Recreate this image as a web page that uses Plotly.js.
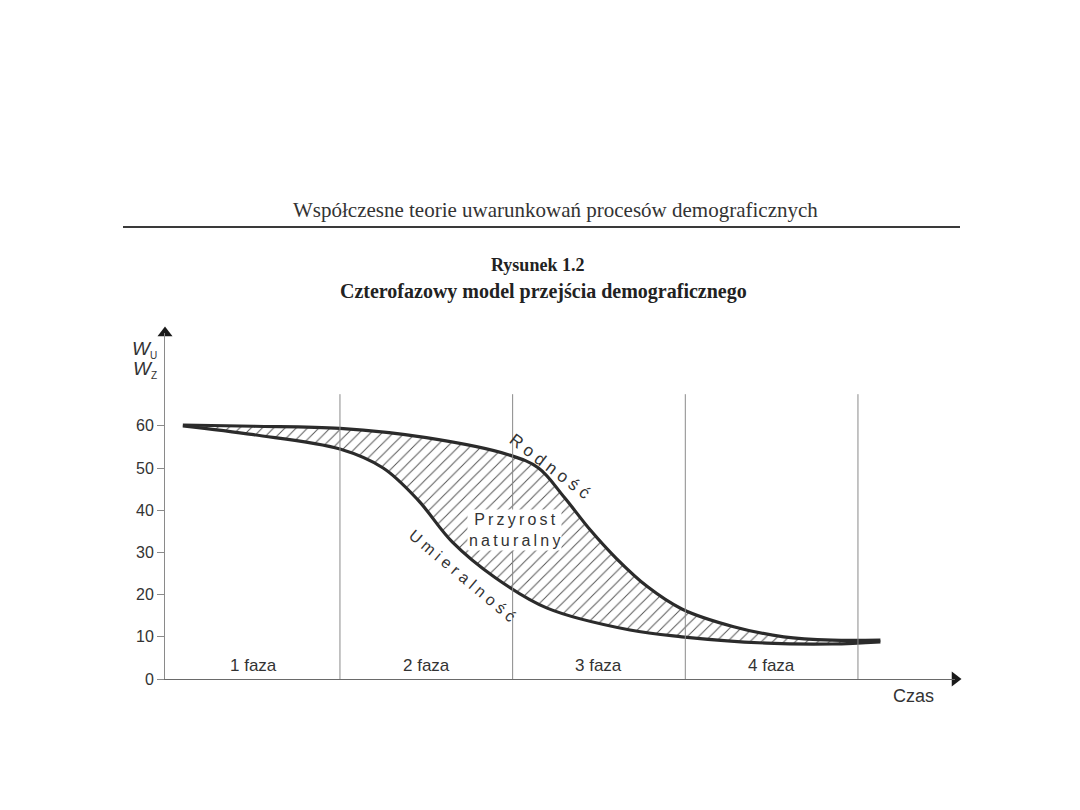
<!DOCTYPE html>
<html>
<head>
<meta charset="utf-8">
<script src="https://cdn.plot.ly/plotly-3.0.1.min.js"></script>
<style>html,body{margin:0;padding:0;background:#fff;}#chart{width:1080px;height:810px;}</style>
</head>
<body>
<div id="chart"></div>
<script>
// ---- data ----
const phaseLabels = ['1 faza', '2 faza', '3 faza', '4 faza'];
const phaseCenters = [0.5, 1.5, 2.5, 3.5];
const phaseBounds = [1, 2, 3, 4];
const phaseTop = 67.5;

// Rodność (birth rate), upper curve
const birthX = [0.09, 0.50, 1.00, 1.50, 1.98, 2.15, 2.30, 2.45, 2.60, 2.78, 2.98, 3.28, 3.57, 3.85, 4.13];
const birthY = [60.2, 59.9, 59.4, 57.2, 53.1, 50.0, 43.0, 35.3, 28.6, 21.9, 16.6, 12.4, 10.0, 9.2, 9.2];

// Umieralność (death rate), lower curve
const deathX = [0.09, 0.50, 1.00, 1.25, 1.45, 1.65, 1.90, 2.20, 2.68, 2.98, 3.47, 3.85, 4.13];
const deathY = [60.0, 57.9, 54.5, 50.0, 42.5, 32.5, 24.0, 16.8, 11.6, 10.0, 8.5, 8.3, 8.8];

const yTicks = [0, 10, 20, 30, 40, 50, 60];

const headerText = 'Współczesne teorie uwarunkowań procesów demograficznych';
const titleLine1 = 'Rysunek 1.2';
const titleLine2 = 'Czterofazowy model przejścia demograficznego';
const xAxisLabel = 'Czas';
const birthLabel = 'R o d n o ś ć';
const deathLabel = 'U m i e r a l n o ś ć';
const thin = '\u2009';
const areaLabel = 'Przyrost'.split('').join(thin) + '<br>' + 'naturalny'.split('').join(thin);

// ---- layout constants ----
const X_MIN = -0.0133, X_MAX = 4.562, Y_MAX = 82;
const sans = 'Liberation Sans, Arial, sans-serif';
const serif = 'Liberation Serif, Times New Roman, serif';
const ink = '#2b2b2b';
const px2paperX = px => (px - 165) / 790;
const px2paperY = py => (679 - py) / 346;

const traces = [
  {
    x: deathX, y: deathY, type: 'scatter', mode: 'lines', name: 'Umieralność',
    line: {color: ink, width: 3.2, shape: 'spline', smoothing: 1},
    hoverinfo: 'skip'
  },
  {
    x: birthX, y: birthY, type: 'scatter', mode: 'lines', name: 'Rodność',
    line: {color: ink, width: 3.2, shape: 'spline', smoothing: 1},
    fill: 'tonexty',
    fillcolor: '#ffffff',
    fillpattern: {shape: '/', size: 8, solidity: 0.12, fgcolor: '#555555', bgcolor: '#ffffff'},
    hoverinfo: 'skip'
  },
  {
    // axis arrowheads
    x: [X_MIN, X_MAX], y: [Y_MAX, 0], type: 'scatter', mode: 'markers',
    marker: {symbol: ['triangle-up', 'triangle-right'], size: 13, color: '#1a1a1a'},
    cliponaxis: false, hoverinfo: 'skip', showlegend: false
  }
];

const shapes = phaseBounds.map(b => ({
  type: 'line', xref: 'x', yref: 'y', x0: b, x1: b, y0: 0, y1: phaseTop,
  line: {color: '#8a8a8a', width: 1}
}));
// header rule
shapes.push({
  type: 'line', xref: 'paper', yref: 'paper', x0: px2paperX(123), x1: px2paperX(960),
  y0: px2paperY(227), y1: px2paperY(227),
  line: {color: '#3a3a3a', width: 2}
});

const annotations = [];
phaseLabels.forEach((t, i) => annotations.push({
  x: phaseCenters[i], y: 3.3, xref: 'x', yref: 'y', text: t, showarrow: false,
  xanchor: 'center', yanchor: 'middle',
  font: {family: sans, size: 17, color: '#333'}
}));
const paperNote = (px, py, text, font, extra) => Object.assign({
  x: px2paperX(px), y: px2paperY(py), xref: 'paper', yref: 'paper', text: text,
  showarrow: false, xanchor: 'center', yanchor: 'middle', font: font
}, extra || {});
annotations.push(
  {x: 2.215, y: 50.4, xref: 'x', yref: 'y', text: birthLabel, textangle: 37, showarrow: false,
   xanchor: 'center', yanchor: 'middle', font: {family: sans, size: 17, color: '#333'}},
  {x: 1.707, y: 24.6, xref: 'x', yref: 'y', text: deathLabel, textangle: 40, showarrow: false,
   xanchor: 'center', yanchor: 'middle', font: {family: sans, size: 16, color: '#333'}},
  {x: 2.013, y: 35.3, xref: 'x', yref: 'y', text: areaLabel, showarrow: false,
   xanchor: 'center', yanchor: 'middle', bgcolor: '#ffffff', borderpad: 1,
   font: {family: sans, size: 16, color: '#333'}},
  paperNote(913, 696, xAxisLabel, {family: sans, size: 18, color: '#333'}),
  paperNote(159, 349, '<i>W</i><sub><span style="font-size:10px">U</span></sub>',
            {family: sans, size: 19, color: '#333'}, {xanchor: 'right'}),
  paperNote(159, 369, '<i>W</i><sub><span style="font-size:10px">Z</span></sub>',
            {family: sans, size: 19, color: '#333'}, {xanchor: 'right'}),
  paperNote(555, 210, headerText, {family: serif, size: 21, color: '#333'}),
  paperNote(537, 265, '<b>' + titleLine1 + '</b>', {family: serif, size: 18, color: '#222'}),
  paperNote(543, 291, '<b>' + titleLine2 + '</b>', {family: serif, size: 20, color: '#222'})
);

const layout = {
  width: 1080, height: 810,
  paper_bgcolor: '#ffffff', plot_bgcolor: '#ffffff',
  margin: {l: 165, r: 125, t: 333, b: 131},
  showlegend: false,
  xaxis: {
    range: [X_MIN, X_MAX], showgrid: false, zeroline: false, showticklabels: false, ticks: '',
    showline: true, linecolor: '#6a6a6a', linewidth: 1.3, fixedrange: true
  },
  yaxis: {
    range: [0, Y_MAX], showgrid: false, zeroline: false,
    tickmode: 'array', tickvals: yTicks, ticktext: yTicks.map(String),
    ticks: 'outside', ticklen: 7, tickcolor: '#8a8a8a', tickwidth: 1,
    tickfont: {family: sans, size: 16, color: '#333'},
    showline: true, linecolor: '#8a8a8a', linewidth: 1, fixedrange: true
  },
  shapes: shapes,
  annotations: annotations
};

Plotly.newPlot('chart', traces, layout, {displayModeBar: false, staticPlot: true});
</script>
</body>
</html>
